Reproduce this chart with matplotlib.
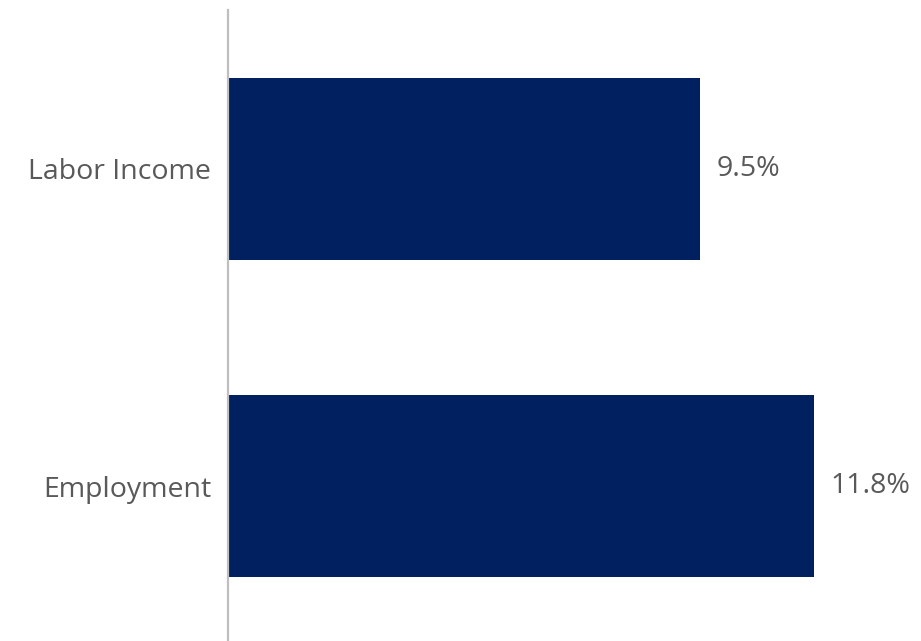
import matplotlib
matplotlib.use("Agg")
import matplotlib.pyplot as plt

categories = ["Employment", "Labor Income"]
values = [11.8, 9.5]
value_labels = ["11.8%", "9.5%"]

bar_color = "#002060"
text_color = "#595959"
axis_color = "#BFBFBF"
font = ["Open Sans", "DejaVu Sans"]

fig = plt.figure(figsize=(9.21, 6.41), dpi=100)
ax = fig.add_axes([228 / 921, 0, 693 / 921, 631 / 641])

y = list(range(len(categories)))
ax.barh(y, values, height=0.573, color=bar_color, zorder=2)

ax.set_xlim(0, 693 / 49.7)
ax.set_ylim(-0.487, 1.5)

for yi, v, lab in zip(y, values, value_labels):
    ax.annotate(lab, (v, yi), xytext=(16, 0), textcoords="offset pixels",
                va="center", ha="left", fontsize=20.5, color=text_color, family=font)

ax.set_yticks(y)
ax.set_yticklabels(categories, fontsize=20.5, color=text_color, family=font)
ax.tick_params(axis="y", length=0, pad=12)
ax.set_xticks([])

for s in ["top", "right", "bottom"]:
    ax.spines[s].set_visible(False)
ax.spines["left"].set_color(axis_color)
ax.spines["left"].set_linewidth(1.6)
ax.spines["left"].set_zorder(3)

fig.savefig("out.png", dpi=100)
